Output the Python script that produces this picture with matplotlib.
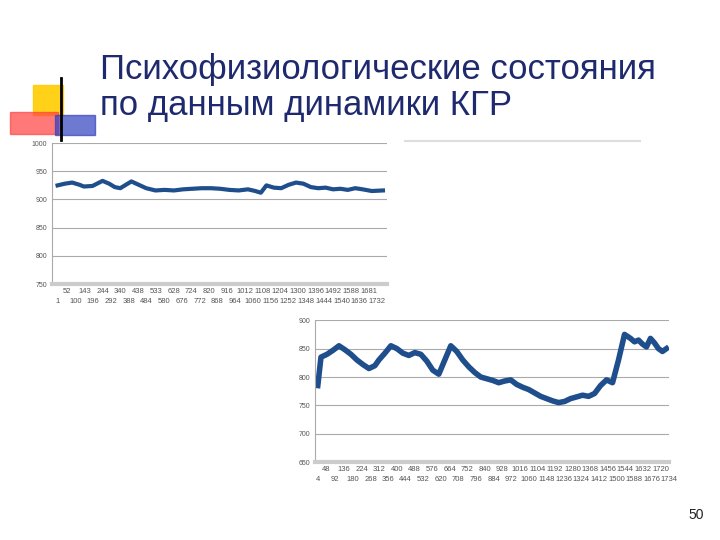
import numpy as np
import matplotlib.pyplot as plt
from matplotlib.patches import Rectangle

plt.rcParams['font.family'] = ['Liberation Sans', 'DejaVu Sans']

# top chart (КГР, session 1)
top_x = [1, 40, 80, 120, 143, 190, 244, 280, 310, 340, 400, 440, 480, 530,
         580, 630, 680, 730, 780, 830, 880, 930, 980, 1030, 1070, 1100, 1130,
         1170, 1210, 1250, 1290, 1330, 1370, 1410, 1450, 1490, 1530, 1570,
         1610, 1650, 1700, 1760]
top_y = [925, 928, 930, 926, 923, 924, 933, 928, 922, 920, 932, 926, 920, 916,
         917, 916, 918, 919, 920, 920, 919, 917, 916, 918, 915, 912, 925,
         921, 920, 926, 930, 928, 922, 920, 921, 918, 919, 917, 920, 918,
         915, 916]
top_lab1 = ["52", "143", "244", "340", "438", "533", "628", "724", "820", "916",
            "1012", "1108", "1204", "1300", "1396", "1492", "1588", "1681"]
top_lab2 = ["1", "100", "196", "292", "388", "484", "580", "676", "772", "868",
            "964", "1060", "1156", "1252", "1348", "1444", "1540", "1636", "1732"]

# bottom chart (session 2)
bot_x = [4, 20, 50, 80, 110, 140, 170, 200, 230, 260, 290, 310, 340, 370, 400,
         430, 460, 490, 520, 550, 580, 610, 640, 670, 700, 730, 760, 790, 820,
         850, 880, 910, 940, 970, 1000, 1030, 1060, 1090, 1120, 1150, 1180,
         1210, 1240, 1270, 1300, 1330, 1360, 1390, 1420, 1450, 1480, 1510,
         1540, 1570, 1590, 1610, 1630, 1650, 1670, 1690, 1710, 1730, 1750]
bot_y = [785, 835, 840, 847, 855, 848, 840, 830, 822, 815, 820, 830, 842, 855,
         850, 842, 838, 843, 840, 828, 812, 805, 830, 855, 845, 830, 818, 808,
         800, 797, 794, 790, 793, 795, 787, 782, 778, 772, 766, 762, 758,
         755, 757, 762, 765, 768, 766, 771, 785, 795, 790, 830, 875, 868,
         862, 865, 858, 853, 868, 860, 850, 845, 850]
bot_lab1 = ["48", "136", "224", "312", "400", "488", "576", "664", "752", "840",
            "928", "1016", "1104", "1192", "1280", "1368", "1456", "1544",
            "1632", "1720"]
bot_lab2 = ["4", "92", "180", "268", "356", "444", "532", "620", "708", "796",
            "884", "972", "1060", "1148", "1236", "1324", "1412", "1500",
            "1588", "1676", "1734"]

blue = "#1f4e8c"
fig = plt.figure(figsize=(7.2, 5.4), dpi=100)

# slide decoration
deco = fig.add_axes([0, 0, 1, 1])
deco.set_xlim(0, 720)
deco.set_ylim(540, 0)
deco.axis("off")
deco.add_patch(Rectangle((33, 85), 30, 30, color="#ffcc00", alpha=0.9))
deco.add_patch(Rectangle((10, 112), 48, 22, color="#ff4040", alpha=0.7))
deco.plot([61, 61], [78, 140], color="black", lw=2)
deco.add_patch(Rectangle((55, 115), 40, 20, color="#3040c0", alpha=0.7))
deco.plot([405, 640], [141, 141], color="#dddddd", lw=1.5)
deco.text(100, 70, "Психофизиологические состояния", fontsize=25,
          color="#1f2a6e", va="center")
deco.text(100, 105, "по данным динамики КГР", fontsize=25,
          color="#1f2a6e", va="center")
deco.text(688, 515, "50", fontsize=10, color="#222222", va="center")


def setup(ax, ylo, yhi, lab1, lab2, step1, step2, off1, off2):
    ax.set_ylim(ylo, yhi)
    ax.set_yticks(np.arange(ylo, yhi + 1, 50))
    ax.tick_params(axis="y", labelsize=5, length=0, colors="#555555")
    ax.grid(axis="y", color="#aaaaaa", lw=0.8)
    for s in ["top", "right"]:
        ax.spines[s].set_visible(False)
    ax.spines["left"].set_color("#aaaaaa")
    ax.spines["bottom"].set_color("#cccccc")
    ax.spines["bottom"].set_linewidth(3)
    ax.set_xticks([off1 + i * step1 for i in range(len(lab1))])
    ax.set_xticklabels(lab1)
    ax.set_xticks([off2 + i * step2 for i in range(len(lab2))], minor=True)
    ax.set_xticklabels(lab2, minor=True)
    ax.tick_params(axis="x", which="major", labelsize=5.5, length=0, pad=3,
                   colors="#555555")
    ax.tick_params(axis="x", which="minor", labelsize=5.5, length=0, pad=10,
                   colors="#555555")


ax1 = fig.add_axes([0.072, 0.474, 0.465, 0.261])
ax1.plot(top_x, top_y, color=blue, lw=3)
ax1.set_xlim(-30, 1780)
setup(ax1, 750, 1000, top_lab1, top_lab2, 96, 96, 52, 1)

ax2 = fig.add_axes([0.4375, 0.144, 0.492, 0.263])
ax2.plot(bot_x, bot_y, color=blue, lw=4)
ax2.set_xlim(-10, 1760)
setup(ax2, 650, 900, bot_lab1, bot_lab2, 88, 88, 48, 4)

fig.savefig("out.png", dpi=100)
